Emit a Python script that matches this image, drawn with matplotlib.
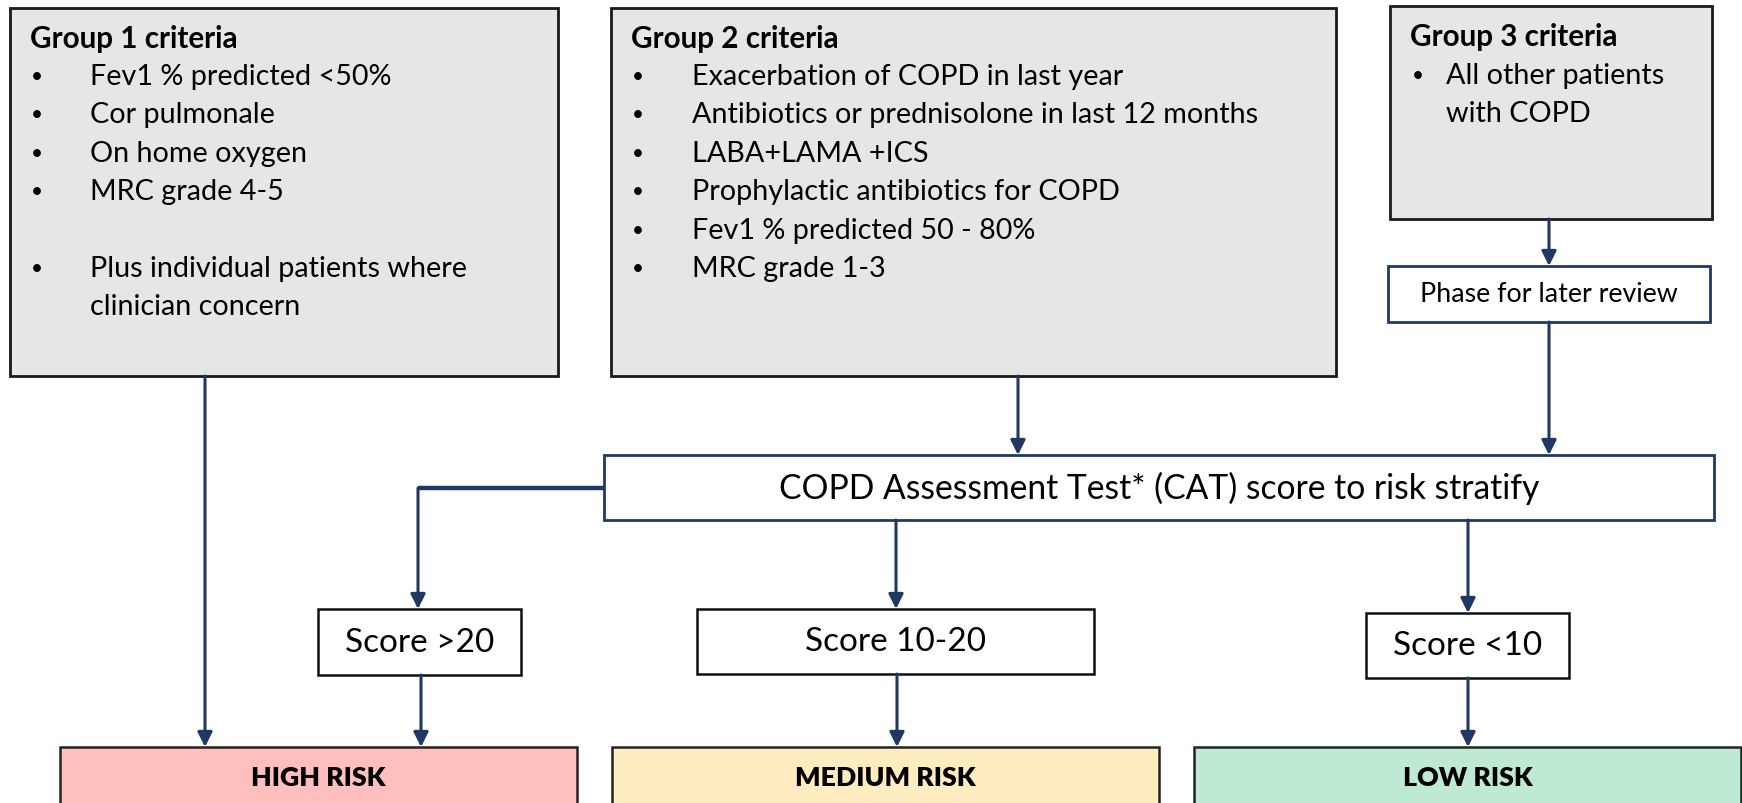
import matplotlib.pyplot as plt
from matplotlib.patches import Rectangle, FancyArrowPatch

plt.rcParams['font.family'] = ['Lato', 'DejaVu Sans']

# chart content
group_titles = ["Group 1 criteria", "Group 2 criteria", "Group 3 criteria"]
group1_items = ["Fev1 % predicted <50%", "Cor pulmonale", "On home oxygen",
                "MRC grade 4-5", None, "Plus individual patients where",
                "clinician concern"]
group2_items = ["Exacerbation of COPD in last year",
                "Antibiotics or prednisolone in last 12 months",
                "LABA+LAMA +ICS", "Prophylactic antibiotics for COPD",
                "Fev1 % predicted 50 - 80%", "MRC grade 1-3"]
group3_items = ["All other patients", "with COPD"]
phase_label = "Phase for later review"
cat_label = "COPD Assessment Test* (CAT) score to risk stratify"
score_labels = ["Score >20", "Score 10-20", "Score <10"]
risk_labels = ["HIGH RISK", "MEDIUM RISK", "LOW RISK"]
risk_colors = ["#FFBFBF", "#FFECC0", "#BEEAD4"]

navy = "#1F3864"
grey = "#E6E6E6"

# layout (pixel coords, y down)
group_boxes = [(10, 9, 558, 377), (611, 9, 1336, 377), (1390, 7, 1712, 220)]
phase_box = (1388, 267, 1710, 323)
cat_box = (604, 456, 1714, 521)
score_boxes = [(318, 610, 521, 676), (697, 610, 1094, 675), (1366, 614, 1569, 679)]
risk_boxes = [(60, 748, 577, 812), (612, 748, 1159, 812), (1194, 748, 1741, 812)]

fig = plt.figure(figsize=(17.42, 8.04), dpi=100)
ax = fig.add_axes([0, 0, 1, 1])
ax.set_xlim(0, 1742)
ax.set_ylim(804, 0)
ax.axis('off')


def box(b, fc, ec, lw):
    x0, y0, x1, y1 = b
    ax.add_patch(Rectangle((x0, y0), x1 - x0, y1 - y0, facecolor=fc,
                           edgecolor=ec, linewidth=lw, zorder=2))


def arrow(x0, y0, x1, y1):
    ax.add_patch(FancyArrowPatch((x0, y0), (x1, y1), arrowstyle='-|>',
                                 mutation_scale=22, color=navy, lw=2.2,
                                 shrinkA=0, shrinkB=0, zorder=3))


# group boxes
for b in group_boxes:
    box(b, grey, "#1A1A1A", 2.0)

fs = 20.7
fs_title = 21.3
fs_bullet = 15

# group 1 text
ax.text(30, 39, group_titles[0], fontsize=fs_title, fontweight='bold', va='center')
for i, t in enumerate(group1_items):
    if t is None:
        continue
    y = 77 + i * 38.4
    if i != 6:
        ax.text(31, y, "\u2022", fontsize=fs_bullet, va='center')
    ax.text(90, y, t, fontsize=fs, va='center')

# group 2 text
ax.text(631, 39, group_titles[1], fontsize=fs_title, fontweight='bold', va='center')
for i, t in enumerate(group2_items):
    y = 77 + i * 38.4
    ax.text(632, y, "\u2022", fontsize=fs_bullet, va='center')
    ax.text(692, y, t, fontsize=fs, va='center')

# group 3 text
ax.text(1410, 37, group_titles[2], fontsize=fs_title, fontweight='bold', va='center')
ax.text(1412, 76, "\u2022", fontsize=fs_bullet, va='center')
for i, t in enumerate(group3_items):
    ax.text(1446, 76 + i * 38.4, t, fontsize=fs, va='center')

# phase box
box(phase_box, "white", navy, 2.0)
ax.text((phase_box[0] + phase_box[2]) / 2, (phase_box[1] + phase_box[3]) / 2,
        phase_label, fontsize=19.3, ha='center', va='center', zorder=4)

# CAT box
box(cat_box, "white", navy, 2.0)
ax.text((cat_box[0] + cat_box[2]) / 2, (cat_box[1] + cat_box[3]) / 2,
        cat_label, fontsize=24.2, ha='center', va='center', zorder=4)

# score boxes
for b, lab in zip(score_boxes, score_labels):
    box(b, "white", "#111111", 1.8)
    ax.text((b[0] + b[2]) / 2, (b[1] + b[3]) / 2, lab, fontsize=24,
            ha='center', va='center', zorder=4)

# risk boxes
for b, lab, c in zip(risk_boxes, risk_labels, risk_colors):
    box(b, c, "#222222", 1.8)
    ax.text((b[0] + b[2]) / 2, 778, lab, fontsize=19.3, fontweight='heavy',
            ha='center', va='center', zorder=4)

# connectors
arrow(205, 377, 205, 748)
arrow(1018, 377, 1018, 456)
arrow(1549, 220, 1549, 267)
arrow(1549, 323, 1549, 456)
ax.plot([604, 418], [489, 489], color=navy, lw=3.2, solid_capstyle='butt', zorder=3)
arrow(418, 489, 418, 610)
arrow(896, 521, 896, 610)
arrow(1468, 521, 1468, 614)
arrow(421, 676, 421, 748)
arrow(897, 675, 897, 748)
arrow(1468, 679, 1468, 748)

fig.savefig("out.png", dpi=100)
